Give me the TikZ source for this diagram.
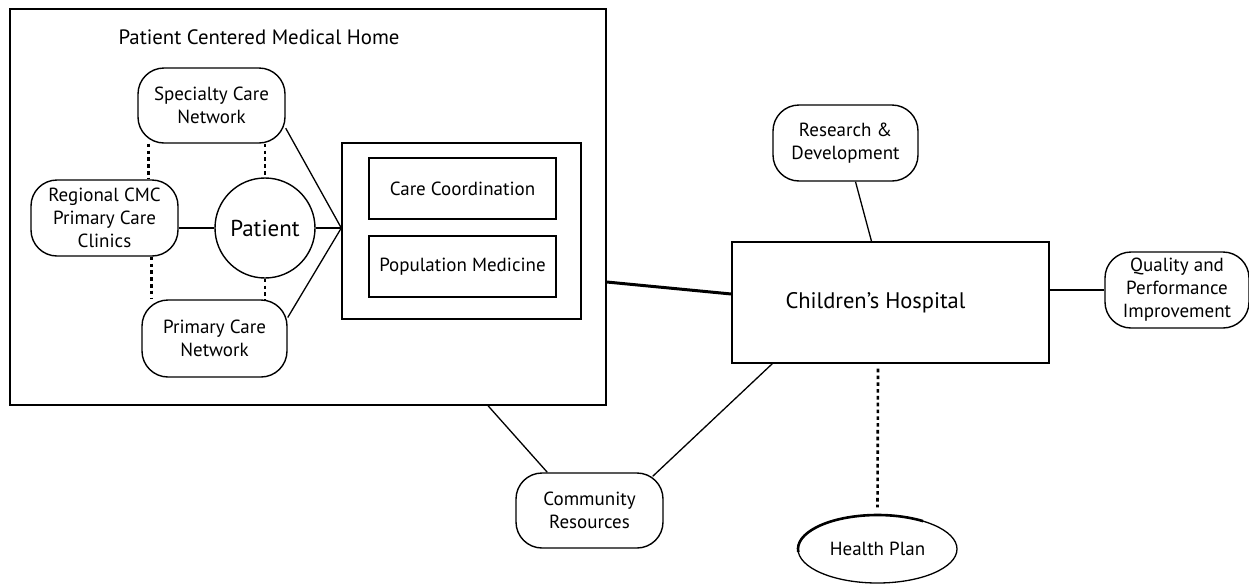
\documentclass[tikz,border=0pt]{standalone}
\usepackage{fontspec}
\setmainfont{PT Sans}
\usetikzlibrary{shapes.geometric,calc}
\begin{document}
\begin{tikzpicture}[x=1pt,y=-1pt,
  rbox/.style={draw, line width=1.4pt, rounded corners=26pt, align=center,
    font=\fontsize{19}{23}\selectfont, inner sep=0pt},
  sbox/.style={draw, line width=1.4pt, align=center, inner sep=0pt,
    font=\fontsize{19}{23}\selectfont},
  conn/.style={line width=1.3pt},
  dots/.style={line width=2.6pt, dash pattern=on 3.6pt off 3.2pt}]
\useasboundingbox (0,0) rectangle (1249,584);
% outer home box
\node[sbox, minimum width=596pt, minimum height=396pt] (pcmh) at (308,207) {};
\node[font=\fontsize{20.8}{24}\selectfont] (title) at (259,37) {Patient Centered Medical Home};
\node[rbox, minimum width=147pt, minimum height=75pt] (spec) at (211.5,105.5) {Specialty Care\\Network};
\node[rbox, minimum width=147pt, minimum height=76pt] (reg) at (104.5,218) {Regional CMC\\Primary Care\\Clinics};
\node[draw, circle, line width=1.4pt, minimum size=100pt, inner sep=0pt,
  font=\fontsize{23}{27}\selectfont] (pat) at (265,228) {Patient};
\node[rbox, minimum width=145pt, minimum height=77pt] (pcn) at (214.5,338.5) {Primary Care\\Network};
\node[sbox, minimum width=239pt, minimum height=176pt] (inner) at (461.5,231) {};
\node[sbox, minimum width=187pt, minimum height=61pt] (cc) at (462.5,188.5) {Care Coordination};
\node[sbox, minimum width=187pt, minimum height=61pt] (pm) at (462.5,266.5) {Population Medicine};
% hospital and partners
\node[sbox, minimum width=317pt, minimum height=121pt,
  font=\fontsize{22.5}{26}\selectfont] (ch) at (890.5,302.5) {Children's Hospital\hspace*{30pt}};
\node[rbox, minimum width=145pt, minimum height=76pt] (rd) at (845.5,143) {Research \&\\Development};
\node[rbox, minimum width=144pt, minimum height=76pt] (qpi) at (1177,290) {Quality and\\Performance\\Improvement};
\node[rbox, minimum width=147pt, minimum height=75pt] (cr) at (589.5,510.5) {Community\\Resources};
\node[draw, ellipse, line width=1.3pt, minimum width=159pt, minimum height=68pt, inner sep=0pt,
  font=\fontsize{19}{23}\selectfont] (hp) at (877.5,549) {Health Plan};
\draw[line width=2.6pt] (hp.center) ++(175:79.5 and 34)
  arc[start angle=175, end angle=305, x radius=79.5, y radius=34];
% connectors inside the home
\path (inner.west) ++(0,-3) coordinate (cv);
\draw[conn] (pat.west -| reg.east) -- (pat.west);
\draw[conn] (pat.east) -- (cv);
\draw[conn] (spec.-17) -- (cv);
\draw[conn] (pcn.16) -- (cv);
\draw[dots] ([xshift=11pt]spec.south west) -- ([xshift=11pt]spec.south west |- reg.north);
\draw[dots] (pat.north |- spec.south) -- (pat.north);
\draw[dots] ([xshift=10pt]pcn.north west |- reg.south) -- ([xshift=10pt]pcn.north west);
\draw[dots] (pat.south) -- (pat.south |- pcn.north);
% outer connectors
\draw[line width=3pt] ($(pcmh.east)+(0,75)$) -- ($(ch.west)+(0,-8.5)$);
\draw[conn] ($(rd.south)+(10,0)$) -- ($(ch.north)+(-19,0)$);
\draw[conn] ($(ch.east)+(0,-12.5)$) -- (qpi.west);
\draw[conn] ($(pcmh.south)+(180,0)$) -- ($(cr.north west)+(32,0)$);
\draw[conn] ($(cr.north east)+(-11,4)$) -- ($(ch.south west)+(41,0)$);
\draw[dots] ($(ch.south)+(-12.5,5)$) -- ($(hp.north)+(0,-7)$);
\end{tikzpicture}
\end{document}
